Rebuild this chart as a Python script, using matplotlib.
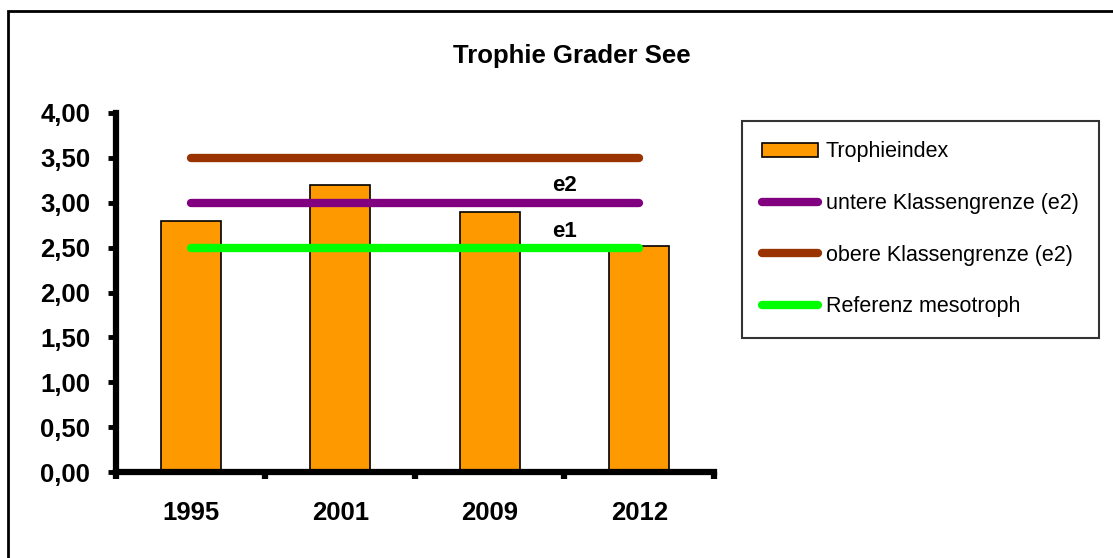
import matplotlib.pyplot as plt
import matplotlib.patches as patches
from matplotlib.ticker import FixedLocator, FuncFormatter

plt.rcParams['font.family'] = ['Liberation Sans', 'DejaVu Sans']

# data
years = ['1995', '2001', '2009', '2012']
trophie = [2.8, 3.2, 2.9, 2.52]
untere_grenze = [3.0, 3.0, 3.0, 3.0]   # e2 lower
obere_grenze = [3.5, 3.5, 3.5, 3.5]    # e2 upper
referenz = [2.5, 2.5, 2.5, 2.5]        # mesotroph

fig = plt.figure(figsize=(11.13, 5.58), dpi=100)
ax = fig.add_axes([0.1042, 0.1541, 0.5373, 0.6434])

x = list(range(len(years)))
bars = ax.bar(x, trophie, width=0.4, color='#FF9900', edgecolor='black', linewidth=1.2,
              label='Trophieindex', zorder=2)
l1, = ax.plot(x, untere_grenze, color='#800080', lw=6, solid_capstyle='round',
              label='untere Klassengrenze (e2)', zorder=3)
l2, = ax.plot(x, obere_grenze, color='#993300', lw=6, solid_capstyle='round',
              label='obere Klassengrenze (e2)', zorder=3)
l3, = ax.plot(x, referenz, color='#00FF00', lw=6, solid_capstyle='round',
              label='Referenz mesotroph', zorder=3)

ax.text(2.5, 3.19, 'e2', ha='center', va='center', fontsize=16, fontweight='bold')
ax.text(2.5, 2.68, 'e1', ha='center', va='center', fontsize=16, fontweight='bold')

ax.set_xlim(-0.5, 3.5)
ax.set_ylim(0, 4)
ax.set_yticks([i * 0.5 for i in range(9)])
ax.yaxis.set_major_formatter(FuncFormatter(lambda v, p: '{:.2f}'.format(v).replace('.', ',')))
ax.set_xticks(x)
ax.set_xticklabels(years)
ax.xaxis.set_minor_locator(FixedLocator([-0.5, 0.5, 1.5, 2.5, 3.5]))

for s in ['top', 'right']:
    ax.spines[s].set_visible(False)
for s in ['left', 'bottom']:
    ax.spines[s].set_linewidth(4.5)

ax.tick_params(axis='y', which='major', direction='out', length=5.5, width=3.5, pad=13,
               labelsize=18.5)
ax.tick_params(axis='x', which='major', length=0, pad=21, labelsize=18.5)
ax.tick_params(axis='x', which='minor', direction='out', length=5, width=4.5)
for lbl in ax.get_xticklabels() + ax.get_yticklabels():
    lbl.set_fontweight('bold')

fig.text(0.514, 0.899, 'Trophie Grader See', ha='center', va='center',
         fontsize=18.5, fontweight='bold')

leg = ax.legend([bars, l1, l2, l3],
                ['Trophieindex', 'untere Klassengrenze (e2)',
                 'obere Klassengrenze (e2)', 'Referenz mesotroph'],
                loc='upper left', bbox_to_anchor=(0.6667, 0.7832),
                bbox_transform=fig.transFigure, fontsize=15.5, frameon=True,
                fancybox=False, borderaxespad=0, borderpad=0.95, labelspacing=1.42,
                handlelength=2.6, handletextpad=0.35, handleheight=0.6)
leg.get_frame().set_edgecolor('black')
leg.get_frame().set_linewidth(1.5)

# outer chart border
fig.patches.append(patches.Rectangle((8 / 1113, -0.02), 1.1, 1 - 11 / 558 + 0.02,
                                     transform=fig.transFigure, fill=False,
                                     edgecolor='black', linewidth=2))

fig.savefig('out.png', dpi=100)
